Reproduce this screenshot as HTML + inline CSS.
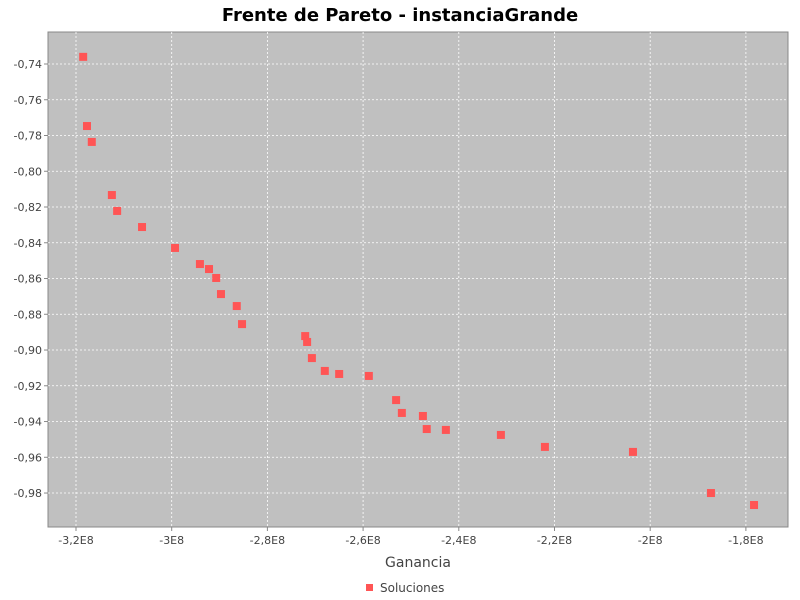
<!DOCTYPE html>
<html><head><meta charset="utf-8"><style>
body{margin:0;background:#fff;font-family:"Liberation Sans","DejaVu Sans",sans-serif}
svg{display:block}
</style></head><body>
<svg id="chart" width="800" height="600">
<text x="400" y="21" text-anchor="middle" font-size="18" font-weight="bold" font-family="DejaVu Sans, sans-serif">Frente de Pareto - instanciaGrande</text>
<rect x="48" y="32" width="740" height="495" fill="#c0c0c0" stroke="#888"/>
<g id="grid"></g><g id="axes"></g><g id="pts"></g>
<text x="418" y="567" text-anchor="middle" font-size="14" fill="#444" font-family="DejaVu Sans, sans-serif">Ganancia</text>
<rect x="366" y="584" width="7" height="7" fill="#ff5555"/>
<text x="380" y="592" font-size="12" fill="#444" font-family="DejaVu Sans, sans-serif">Soluciones</text>
</svg>
<script>
const xVals=[-3.185e8,-3.177e8,-3.167e8,-3.125e8,-3.114e8,-3.062e8,-2.993e8,-2.941e8,-2.922e8,-2.907e8,-2.897e8,-2.864e8,-2.853e8,-2.721e8,-2.717e8,-2.707e8,-2.680e8,-2.650e8,-2.588e8,-2.531e8,-2.519e8,-2.475e8,-2.467e8,-2.427e8,-2.312e8,-2.220e8,-2.036e8,-1.873e8,-1.783e8];
const yVals=[-0.736,-0.7747,-0.7836,-0.8133,-0.8222,-0.8312,-0.8429,-0.8519,-0.8547,-0.8597,-0.8687,-0.8754,-0.8855,-0.8922,-0.8955,-0.9045,-0.9117,-0.9134,-0.9145,-0.9280,-0.9352,-0.9369,-0.9442,-0.9447,-0.9475,-0.9542,-0.9570,-0.9800,-0.9867];
const xTicks=[-3.2e8,-3.0e8,-2.8e8,-2.6e8,-2.4e8,-2.2e8,-2.0e8,-1.8e8];
const xTickLabels=["-3,2E8","-3E8","-2,8E8","-2,6E8","-2,4E8","-2,2E8","-2E8","-1,8E8"];
const yTicks=[-0.74,-0.76,-0.78,-0.80,-0.82,-0.84,-0.86,-0.88,-0.90,-0.92,-0.94,-0.96,-0.98];
const yTickLabels=["-0,74","-0,76","-0,78","-0,80","-0,82","-0,84","-0,86","-0,88","-0,90","-0,92","-0,94","-0,96","-0,98"];
const NS="http://www.w3.org/2000/svg";
const X0=48,X1=788,Y0=32,Y1=527;
const xmin=-3.2585e8,xmax=-1.712e8,ymax=-0.7221,ymin=-0.999;
const sx=v=>X0+(v-xmin)/(xmax-xmin)*(X1-X0);
const sy=v=>Y0+(ymax-v)/(ymax-ymin)*(Y1-Y0);
function mk(t,a,p){const e=document.createElementNS(NS,t);for(const k in a)e.setAttribute(k,a[k]);p.appendChild(e);return e;}
const grid=document.getElementById('grid'),axes=document.getElementById('axes'),pts=document.getElementById('pts');
xTicks.forEach((v,i)=>{const x=sx(v);
const g=mk('line',{x1:x,x2:x,y1:Y0,y2:Y1,stroke:'#fff','stroke-dasharray':'2,2','stroke-width':0.8},grid);


mk('line',{x1:x,x2:x,y1:Y1,y2:Y1+4,stroke:'#888'},axes);
const t=mk('text',{x:x,y:Y1+17,'text-anchor':'middle','font-size':11,fill:'#444','font-family':'DejaVu Sans, sans-serif'},axes);t.textContent=xTickLabels[i];

});
yTicks.forEach((v,i)=>{const y=sy(v);
const g=mk('line',{x1:X0,x2:X1,y1:y,y2:y,stroke:'#fff','stroke-dasharray':'2,2','stroke-width':0.8},grid);


mk('line',{x1:X0-4,x2:X0,y1:y,y2:y,stroke:'#888'},axes);
const t=mk('text',{x:X0-6,y:y+4,'text-anchor':'end','font-size':11,fill:'#444','font-family':'DejaVu Sans, sans-serif'},axes);t.textContent=yTickLabels[i];

});
xVals.forEach((v,i)=>{const r=mk('rect',{x:sx(v)-4,y:sy(yVals[i])-4,width:8,height:8,fill:'#ff5555'},pts);

});
</script>
</body></html>
